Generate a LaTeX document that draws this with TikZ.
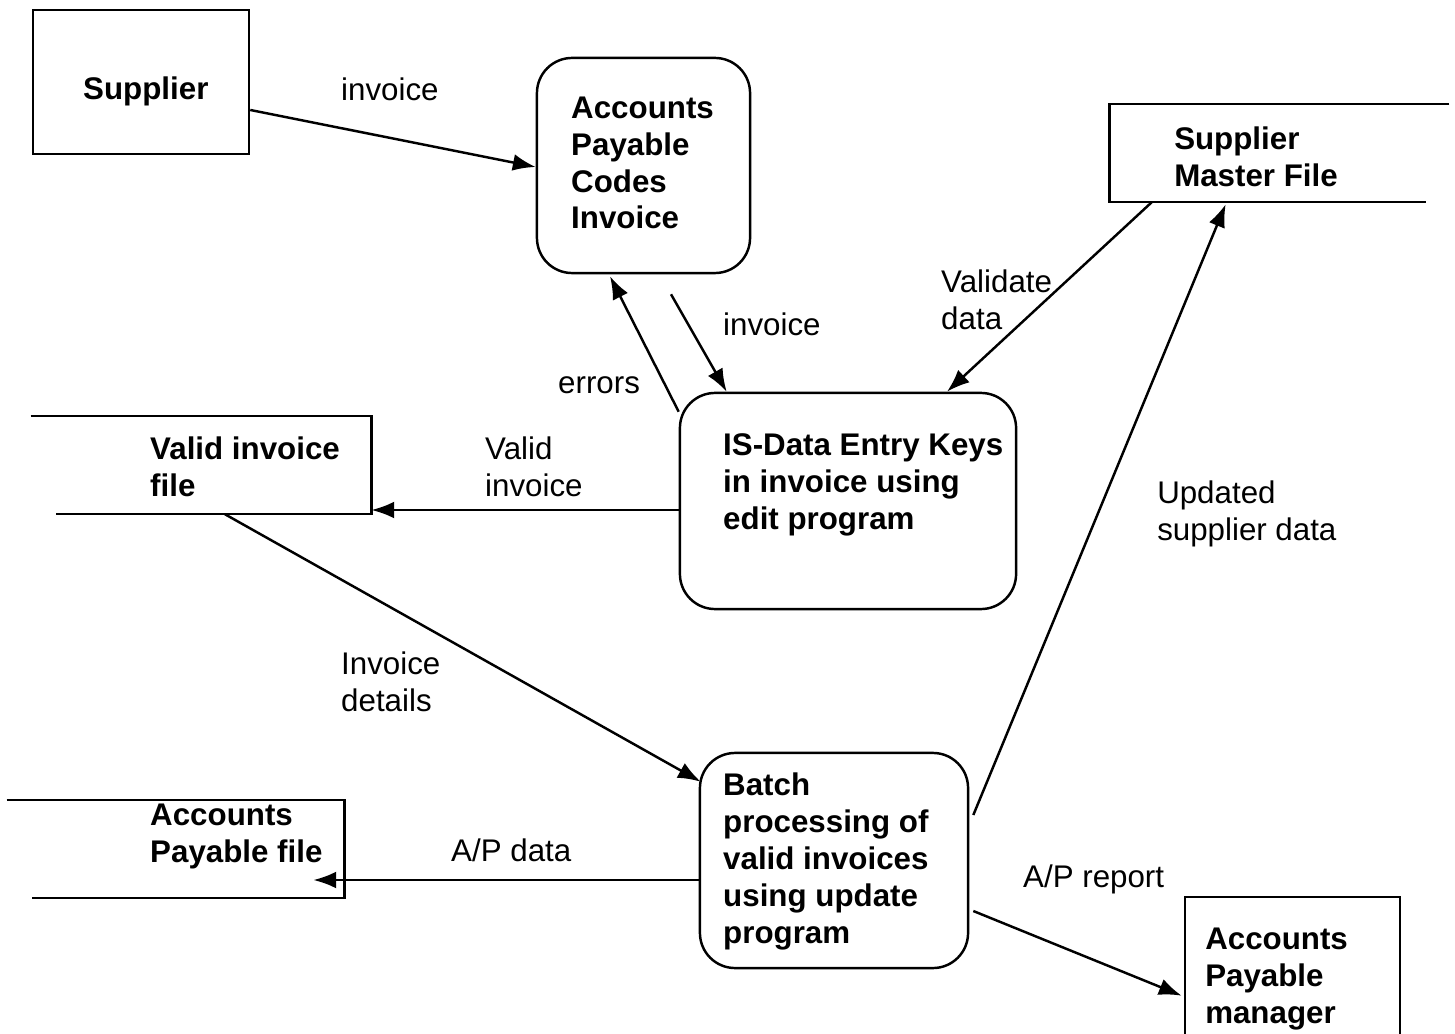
\documentclass[tikz,border=0pt]{standalone}
\usepackage{fontspec}
\setmainfont{Liberation Sans}
\usetikzlibrary{
	positioning
	,calc
	,arrows.meta
}
\newcommand{\flow}[3][]{
	\draw[->,#1] (#2) -- (#3);
}
\tikzset{
	entity/.style={
		draw,
		rectangle
	},
	process/.style={
		draw,
		rectangle,
		rounded corners=10pt
	},
	store/.style={
		rectangle
	},
	title/.style={
		font=\fontsize{8.9}{10.5}\selectfont\bfseries
		,align=left
		,anchor=west
	},
	flowlabel/.style={
		align=left
		,anchor=west
	}
}
\tikzset{
	>={Latex[length=6.5pt,width=4.8pt]}
	,every node/.style={font=\fontsize{8.9}{10.5}\selectfont, inner sep=0pt}
	,every picture/.append style={line width=0.7pt, black}
}
\begin{document}
\begin{tikzpicture}[x=0.01cm,y=-0.01cm]
	\useasboundingbox (0,0) rectangle (1455,1034);
	
	% boxes
	\node[entity, minimum width=2.16cm, minimum height=1.44cm](sup) at(141,82){};
	\node[process, minimum width=2.13cm, minimum height=2.15cm](apc) at(643.5,165.5){};
	\node[process, minimum width=3.36cm, minimum height=2.16cm](ide) at(848,501){};
	\node[process, minimum width=2.68cm, minimum height=2.15cm](bat) at(834,860.5){};
	\node[entity, minimum width=2.15cm, minimum height=1.63cm](apm) at(1292.5,978.5){};
	
	% data stores
	\node[store, minimum width=3.38cm, minimum height=0.96cm](vif) at(201,465){};
	\node[store, minimum width=3.35cm, minimum height=0.96cm](apf) at(175.5,849){};
	\node[store, minimum width=3.14cm, minimum height=0.96cm](smf) at(1268,153){};
	\draw (vif.north west) -- (vif.north east) -- (vif.south east) -- ($(vif.south west)+(25,0)$);
	\draw (apf.north west) -- (apf.north east) -- (apf.south east) -- ($(apf.south west)+(25,0)$);
	\draw ($(smf.north east)+(23,0)$) -- (smf.north west) -- (smf.south west) -- (smf.south east);
	
	% titles
	\node[title](supT) at(82,91){Supplier};
	\node[title](apcT) at(570,163){Accounts\\Payable\\Codes\\Invoice};
	\node[title](ideT) at(722,485){IS-Data Entry Keys\\in invoice using\\edit program};
	\node[title](batT) at(722,861.5){Batch\\processing of\\valid invoices\\using update\\program};
	\node[title](apmT) at(1204,979){Accounts\\Payable\\manager};
	\node[title](vifT) at(149,466.5){Valid invoice\\file};
	\node[title](apfT) at(149,836.5){Accounts\\Payable file};
	\node[title](smfT) at(1173,157){Supplier\\Master File};
	
	% flows
	\flow{$(sup.east)+(0,28)$}{$(apc.west)+(0,1.5)$}
	\flow{$(ide.north west)+(0,20)$}{$(apc.south)+(-33.5,2)$}
	\flow{$(apc.south)+(27.5,20)$}{$(ide.north west)+(48,0)$}
	\flow{$(smf.south west)+(42,0)$}{$(ide.north)+(99,0)$}
	\flow{$(ide.west)+(0,9)$}{$(vif.east)+(0,45)$}
	\flow{$(vif.south)+(24,0)$}{$(bat.north west)+(2,30)$}
	\flow{$(bat.west)+(0,19.5)$}{$(apf.east)+(-31,31)$}
	\flow{$(bat.east)+(4,-45.5)$}{$(smf.south west)+(116,2)$}
	\flow{$(bat.east)+(4,50.5)$}{$(apm.north west)+(-2,100)$}
	
	% flow labels
	\node[flowlabel](l1) at(340,89){invoice};
	\node[flowlabel](l2) at(557,385){errors};
	\node[flowlabel](l3) at(722,324){invoice};
	\node[flowlabel](l4) at(940,300){Validate\\data};
	\node[flowlabel](l5) at(484,467){Valid\\invoice};
	\node[flowlabel](l6) at(1156,514){Updated\\supplier data};
	\node[flowlabel](l7) at(340,682){Invoice\\details};
	\node[flowlabel](l8) at(450,850){A/P data};
	\node[flowlabel](l9) at(1022,879){A/P report};
	
\end{tikzpicture}
\end{document}
